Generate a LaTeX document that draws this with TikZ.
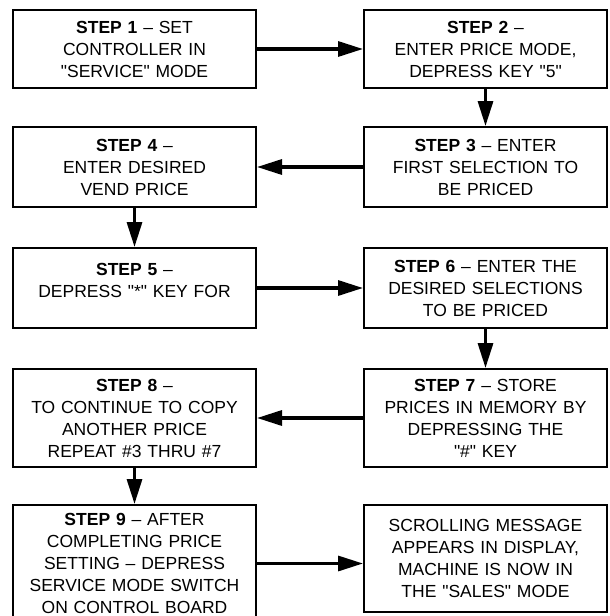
\documentclass[tikz,border=0pt]{standalone}
\usepackage{fontspec}
\setmainfont[Ligatures=TeXOff]{Liberation Sans}
\usepackage{tikz}
\usetikzlibrary{arrows.meta}
\usetikzlibrary{positioning}

\begin{document}
\begin{tikzpicture}[x=1pt,y=1pt,
	stepbox/.style={draw,line width=2pt,minimum width=243pt,text width=235pt,align=center,inner sep=0pt,font=\fontsize{17.5}{22}\selectfont},
	flowarrow/.style={line width=3.2pt,-{Triangle[length=25pt,width=15pt]}}]
	\useasboundingbox (0,0) rectangle (610,-616);
	
	\node[stepbox,minimum height=78pt] (step 1) at (134.5,-49) {\textbf{STEP 1} – SET\\CONTROLLER IN\\"SERVICE" MODE};
	\node[stepbox,minimum height=78pt,right=106pt of step 1] (step 2) {\textbf{STEP 2} –\\ENTER PRICE MODE,\\DEPRESS KEY "5"};
	\node[stepbox,minimum height=80pt,below=37pt of step 2] (step 3) {\textbf{STEP 3} – ENTER\\FIRST SELECTION TO\\BE PRICED};
	\node[stepbox,minimum height=80pt,left=106pt of step 3] (step 4) {\textbf{STEP 4} –\\ENTER DESIRED\\VEND PRICE};
	\node[stepbox,minimum height=80pt,below=39pt of step 4] (step 5) {\textbf{STEP 5} –\\DEPRESS "*" KEY FOR\\[-6pt]\mbox{}};
	\node[stepbox,minimum height=80pt,right=106pt of step 5] (step 6) {\textbf{STEP 6} – ENTER THE\\DESIRED SELECTIONS\\TO BE PRICED};
	\node[stepbox,minimum height=98pt,below=39pt of step 6] (step 7) {\textbf{STEP 7} – STORE\\PRICES IN MEMORY BY\\DEPRESSING THE\\"\#" KEY};
	\node[stepbox,minimum height=98pt,left=106pt of step 7] (step 8) {\textbf{STEP 8} –\\TO CONTINUE TO COPY\\ANOTHER PRICE\\REPEAT \#3 THRU \#7};
	\node[stepbox,minimum height=117pt,below=36pt of step 8] (step 9) {\textbf{STEP 9} – AFTER\\COMPLETING PRICE\\SETTING – DEPRESS\\SERVICE MODE SWITCH\\ON CONTROL BOARD};
	\node[stepbox,minimum height=107pt,right=106pt of step 9.north east,anchor=north west] (message) {SCROLLING MESSAGE\\APPEARS IN DISPLAY,\\MACHINE IS NOW IN\\THE "SALES" MODE};
	
	\draw[flowarrow] (step 1.east) -- (step 2.west);
	\draw[flowarrow] (step 2.south) -- (step 3.north);
	\draw[flowarrow] (step 3.west) -- (step 4.east);
	\draw[flowarrow] (step 4.south) -- (step 5.north);
	\draw[flowarrow] (step 5.east) -- (step 6.west);
	\draw[flowarrow] (step 6.south) -- (step 7.north);
	\draw[flowarrow] (step 7.west) -- (step 8.east);
	\draw[flowarrow] (step 8.south) -- (step 9.north);
	\draw[flowarrow] (step 9.east) -- (step 9.east -| message.west);
	
\end{tikzpicture}
\end{document}
